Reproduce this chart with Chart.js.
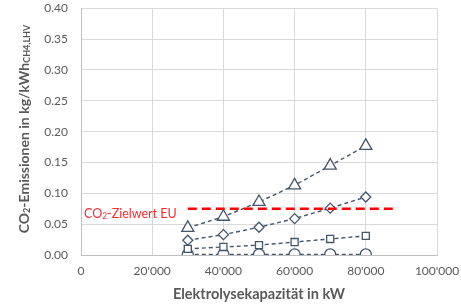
<!DOCTYPE html>
<html><head><meta charset="utf-8">
<script src="https://cdn.jsdelivr.net/npm/chart.js@4"></script>
<style>html,body{margin:0;padding:0;background:#fff}#wrap{width:461px;height:307px}</style>
</head><body><div id="wrap"><canvas id="c" width="461" height="307"></canvas></div>
<script>
const capacities = [30000, 40000, 50000, 60000, 70000, 80000];
const triangleSeries = [0.044, 0.062, 0.086, 0.113, 0.145, 0.177];
const diamondSeries = [0.024, 0.033, 0.045, 0.059, 0.076, 0.094];
const squareSeries = [0.010, 0.013, 0.016, 0.021, 0.026, 0.031];
const circleSeries = [0.001, 0.001, 0.001, 0.001, 0.001, 0.001];
const targetX = [30000, 89000];
const targetValue = 0.075;
const yTicks = [0, 0.05, 0.10, 0.15, 0.20, 0.25, 0.30, 0.35, 0.40];
const xTicks = [0, 20000, 40000, 60000, 80000, 100000];

const FONT = 'Lato, "Open Sans", sans-serif';
const GREY = '#595959';
const MARK = '#44546a';

function pts(ys){ return capacities.map((x,i)=>({x, y: ys[i]})); }
function series(ys, style, r){
  return {data: pts(ys), showLine: true, borderColor: MARK, borderWidth: 1.4, borderDash:[4,3],
    pointStyle: style, pointRadius: r, pointHoverRadius: r, pointBorderColor: MARK, pointBackgroundColor: '#fff', pointBorderWidth: 1.3};
}
function fmtThousands(v){ return String(Math.round(v)).replace(/\B(?=(\d{3})+(?!\d))/g, "'"); }

function drawRich(ctx, segs, x, y, align){
  let total = 0;
  segs.forEach(s=>{ ctx.font = s.font; s.w = ctx.measureText(s.t).width; total += s.w; });
  let cx = align === 'center' ? x - total/2 : x;
  segs.forEach(s=>{ ctx.font = s.font; ctx.fillText(s.t, cx, y + (s.dy||0)); cx += s.w; });
}

const textPlugin = {
  id: 'texts',
  afterDraw(chart){
    const ctx = chart.ctx;
    const area = chart.chartArea;
    const ys = chart.scales.y;
    ctx.save();
    ctx.textBaseline = 'middle';
    ctx.fillStyle = GREY;
    ctx.translate(24, 129);
    ctx.rotate(-Math.PI/2);
    drawRich(ctx, [
      {t:'CO', font:'bold 14px '+FONT},
      {t:'2', font:'bold 9px '+FONT, dy:3},
      {t:'-Emissionen in kg/kWh', font:'bold 14px '+FONT},
      {t:'CH4,LHV', font:'bold 9px '+FONT, dy:3}
    ], 0, 0, 'center');
    ctx.restore();
    ctx.save();
    ctx.textBaseline = 'middle';
    ctx.fillStyle = '#ff2a2a';
    drawRich(ctx, [
      {t:'CO', font:'12.5px '+FONT},
      {t:'2', font:'8.5px '+FONT, dy:3},
      {t:'-Zielwert EU', font:'12.5px '+FONT}
    ], 84, ys.getPixelForValue(targetValue) + 5, 'left');
    ctx.restore();
  }
};

new Chart(document.getElementById('c'), {
  type: 'scatter',
  data: { datasets: [
    {data: targetX.map(x=>({x, y: targetValue})), showLine: true, borderColor: '#ff0000', borderWidth: 2.5, borderDash:[9,5], pointRadius: 0, order: 0},
    series(triangleSeries, 'triangle', 7),
    series(diamondSeries, 'rectRot', 5),
    series(squareSeries, 'rect', 5),
    series(circleSeries, 'circle', 5.5)
  ]},
  options: {
    responsive: false, animation: false, devicePixelRatio: 1,
    layout: { padding: { top: 8, right: 24, left: 0, bottom: 0 } },
    plugins: { legend: {display:false}, tooltip: {enabled:false} },
    scales: {
      x: { type: 'linear', min: 0, max: 100000,
        afterBuildTicks(s){ s.ticks = xTicks.map(v=>({value:v})); },
        afterFit(s){ s.height = 52; s.paddingLeft = 0; s.paddingRight = 0; },
        grid: { color: '#d9d9d9', drawTicks: false },
        border: { color: '#bfbfbf' },
        ticks: { padding: 9, color: GREY, font: {family: FONT, size: 12}, maxRotation: 0, callback: v => fmtThousands(v) },
        title: { display: true, text: 'Elektrolysekapazität in kW', color: GREY, font: {family: FONT, size: 14.5, weight: 'bold'}, padding: {top: 5} }
      },
      y: { min: 0, max: 0.40,
        afterBuildTicks(s){ s.ticks = yTicks.map(v=>({value:v})); },
        afterFit(s){ s.width = 81; s.paddingTop = 0; s.paddingBottom = 0; },
        grid: { color: '#d9d9d9', drawTicks: false },
        border: { color: '#bfbfbf' },
        ticks: { padding: 13, color: GREY, font: {family: FONT, size: 12}, callback: v => v.toFixed(2) }
      }
    }
  },
  plugins: [textPlugin]
});
</script>
</body></html>
